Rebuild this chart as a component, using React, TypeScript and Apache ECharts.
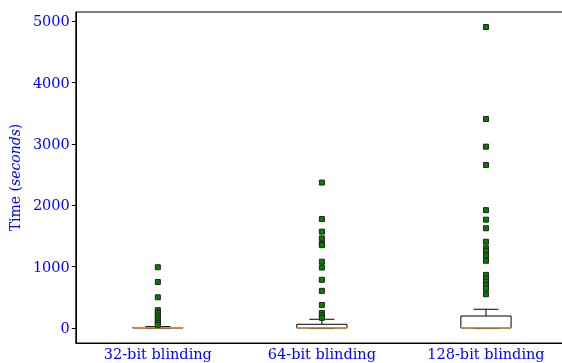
import React, { useEffect, useRef } from "react";
import * as echarts from "echarts";

const categories = ["32-bit blinding", "64-bit blinding", "128-bit blinding"];
const boxLow = [0, 0, 0];
const boxQ1 = [0, 0, 0];
const boxMedian = [2, 4, 3];
const boxQ3 = [8, 60, 195];
const boxHigh = [22, 142, 305];

const outliers32 = [990, 750, 500, 290, 245, 200, 160, 120, 85, 50];
const outliers64 = [2370, 1775, 1570, 1460, 1370, 1350, 1080, 985, 785, 605, 375, 245, 205, 165];
const outliers128 = [4905, 3405, 2955, 2655, 1920, 1765, 1625, 1405, 1300, 1260, 1180, 1095, 865, 810, 755, 700, 645, 550];

const yTicks = [0, 1000, 2000, 3000, 4000, 5000];

export default function App() {
  const ref = useRef<HTMLDivElement>(null);
  useEffect(() => {
    if (!ref.current) return;
    const chart = echarts.init(ref.current, null, { renderer: "svg" });
    const boxData = categories.map((_, i) => [i, boxLow[i], boxQ1[i], boxMedian[i], boxQ3[i], boxHigh[i]]);
    const outlierData: number[][] = [];
    [outliers32, outliers64, outliers128].forEach((arr, i) => arr.forEach((v) => outlierData.push([i, v])));
    const font = "DejaVu Serif";
    chart.setOption({
      animation: false,
      grid: { left: 68, right: 4, top: 12, bottom: 20, show: true, borderColor: "#000", borderWidth: 1, backgroundColor: "transparent" },
      xAxis: {
        type: "category",
        data: categories,
        axisLine: { onZero: false, lineStyle: { color: "#000", width: 1 } },
        axisTick: { alignWithLabel: true, length: 4, lineStyle: { color: "#000" } },
        axisLabel: { color: "blue", fontFamily: font, fontSize: 14.5, margin: 3 },
        splitLine: { show: false },
      },
      yAxis: {
        type: "value",
        min: -245,
        max: 5150,
        name: "{a|Time (}{b|seconds}{a|)}",
        nameLocation: "middle",
        nameGap: 45,
        nameRotate: 90,
        nameTextStyle: {
          rich: {
            a: { color: "blue", fontFamily: font, fontSize: 14 },
            b: { color: "blue", fontFamily: font, fontSize: 14, fontStyle: "italic" },
          },
        },
        axisLine: { show: true, lineStyle: { color: "#000", width: 1 } },
        axisTick: { show: true, length: 4, lineStyle: { color: "#000" }, customValues: yTicks },
        axisLabel: { color: "blue", fontFamily: font, fontSize: 14.5, margin: 6, customValues: yTicks, formatter: (v: number) => String(v) },
        splitLine: { show: false },
      },
      series: [
        {
          type: "custom",
          encode: { x: 0, y: [1, 2, 3, 4, 5] },
          data: boxData,
          z: 2,
          renderItem: (params: any, api: any) => {
            const x = api.value(0);
            const pLow = api.coord([x, api.value(1)]);
            const pQ1 = api.coord([x, api.value(2)]);
            const pMed = api.coord([x, api.value(3)]);
            const pQ3 = api.coord([x, api.value(4)]);
            const pHigh = api.coord([x, api.value(5)]);
            const bw = api.size([1, 0])[0] * 0.306;
            const half = bw / 2;
            const cap = bw / 4;
            const cx = pQ1[0];
            const black = { stroke: "#000", lineWidth: 1 };
            return {
              type: "group",
              children: [
                { type: "line", shape: { x1: cx, y1: pQ3[1], x2: cx, y2: pHigh[1] }, style: black },
                { type: "line", shape: { x1: cx, y1: pQ1[1], x2: cx, y2: pLow[1] }, style: black },
                { type: "line", shape: { x1: cx - cap, y1: pHigh[1], x2: cx + cap, y2: pHigh[1] }, style: black },
                { type: "line", shape: { x1: cx - cap, y1: pLow[1], x2: cx + cap, y2: pLow[1] }, style: black },
                { type: "rect", shape: { x: cx - half, y: pQ3[1], width: bw, height: pQ1[1] - pQ3[1] }, style: { fill: "#fff", stroke: "#000", lineWidth: 1 } },
                { type: "line", shape: { x1: cx - half, y1: pMed[1], x2: cx + half, y2: pMed[1] }, style: { stroke: "#ff7f0e", lineWidth: 1.5 } },
              ],
            };
          },
        },
        {
          type: "scatter",
          data: outlierData,
          symbol: "rect",
          symbolSize: 5,
          z: 3,
          itemStyle: { color: "#008000", borderColor: "#222", borderWidth: 1, opacity: 1 },
        },
      ],
    });
    return () => chart.dispose();
  }, []);
  return (
    <div style={{ position: "fixed", left: 0, top: 0, width: 562, height: 363, overflow: "hidden" }}>
      <div ref={ref} style={{ width: 572, height: 363 }} />
    </div>
  );
}
